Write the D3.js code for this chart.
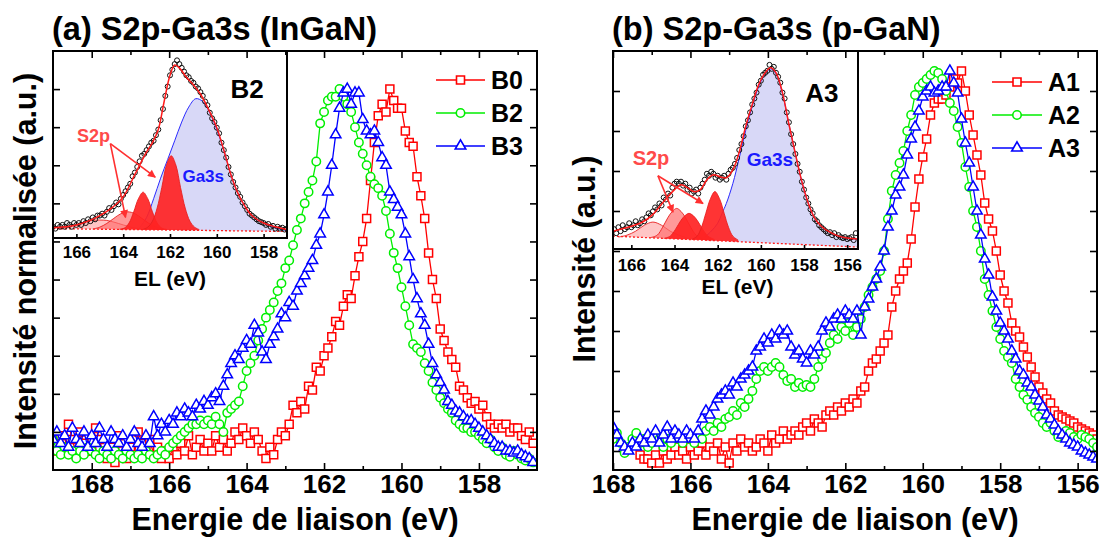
<!DOCTYPE html>
<html><head><meta charset="utf-8">
<script src="https://cdn.jsdelivr.net/npm/d3@7/dist/d3.min.js"></script>
<style>
html,body{margin:0;padding:0;background:#fff;}
svg{display:block;}
text{font-family:"Liberation Sans",Arial,Helvetica,sans-serif;font-weight:bold;}
</style></head><body>
<svg id="chart" width="1104" height="538" xmlns="http://www.w3.org/2000/svg"></svg>
<script>
// ================= DATA =================
const STEP = 0.1; // eV spacing of the measured points

// Panel (a) S2p-Ga3s (InGaN) – main spectra (start energy, then one value per 0.1 eV, decreasing)
const B0_start = 169.0;
const B0 = [0.07,0.05,0.09,0.06,0.12,0.08,0.04,0.10,0.07,0.05,
            0.05,0.11,0.08,0.04,0.03,0.06,0.02,0.09,0.05,0.03,
            0.06,0.04,0.10,0.07,0.05,0.08,0.04,0.06,0.03,0.05,
            0.03,0.06,0.04,0.07,0.05,0.09,0.04,0.06,0.08,0.05,
            0.07,0.05,0.09,0.06,0.08,0.05,0.07,0.10,0.08,0.11,
            0.09,0.07,0.10,0.08,0.05,0.03,0.06,0.04,0.08,0.10,
            0.09,0.12,0.17,0.15,0.18,0.16,0.22,0.21,0.27,0.26,
            0.30,0.32,0.35,0.39,0.38,0.43,0.46,0.45,0.51,0.56,
            0.60,0.66,0.76,0.86,0.93,0.96,0.94,1.00,0.97,0.95,
            0.95,0.89,0.86,0.85,0.77,0.72,0.66,0.57,0.50,0.45,
            0.37,0.34,0.31,0.29,0.27,0.22,0.21,0.19,0.175,0.18,
            0.16,0.17,0.14,0.12,0.11,0.12,0.11,0.12,0.10,0.11,
            0.11,0.09,0.08,0.10,0.07];
const B2_start = 169.0;
const B2 = [0.08,0.05,0.04,0.06,0.04,0.05,0.03,0.05,0.04,0.06,
            0.05,0.04,0.03,0.05,0.04,0.03,0.05,0.04,0.03,0.05,
            0.04,0.03,0.04,0.03,0.05,0.04,0.03,0.04,0.05,0.04,
            0.06,0.07,0.08,0.09,0.10,0.11,0.12,0.12,0.13,0.12,
            0.13,0.12,0.14,0.12,0.10,0.15,0.16,0.17,0.18,0.22,
            0.26,0.28,0.30,0.34,0.37,0.40,0.42,0.44,0.47,0.49,
            0.53,0.55,0.59,0.63,0.66,0.70,0.73,0.76,0.81,0.91,
            0.94,0.97,0.98,0.98,1.00,0.98,0.96,0.94,0.90,0.86,
            0.83,0.80,0.77,0.75,0.74,0.72,0.68,0.62,0.57,0.53,
            0.48,0.43,0.38,0.33,0.32,0.31,0.28,0.26,0.23,0.21,
            0.19,0.175,0.16,0.15,0.13,0.12,0.11,0.11,0.10,0.10,
            0.09,0.08,0.07,0.08,0.06,0.05,0.06,0.04,0.035,0.05,
            0.04,0.03,0.025,0.03,0.02];
const B3_start = 169.0;
const B3 = [0.08,0.10,0.07,0.09,0.06,0.11,0.08,0.07,0.10,0.06,
            0.09,0.07,0.11,0.08,0.06,0.10,0.08,0.07,0.09,0.06,
            0.08,0.10,0.07,0.06,0.09,0.07,0.14,0.09,0.12,0.10,
            0.13,0.12,0.15,0.14,0.16,0.15,0.14,0.17,0.16,0.18,
            0.17,0.19,0.20,0.18,0.22,0.25,0.28,0.30,0.29,0.32,
            0.34,0.33,0.38,0.36,0.31,0.29,0.33,0.35,0.37,0.41,
            0.40,0.44,0.43,0.47,0.49,0.51,0.53,0.55,0.59,0.62,
            0.67,0.73,0.80,0.88,0.95,0.99,1.00,0.96,0.99,0.99,
            0.92,0.89,0.88,0.89,0.86,0.82,0.80,0.73,0.71,0.69,
            0.67,0.62,0.56,0.50,0.45,0.41,0.38,0.33,0.28,0.25,
            0.23,0.21,0.18,0.17,0.155,0.15,0.14,0.13,0.13,0.12,
            0.11,0.10,0.09,0.08,0.07,0.06,0.06,0.05,0.05,0.045,
            0.05,0.04,0.035,0.03,0.02];

// Panel (b) S2p-Ga3s (p-GaN) – main spectra
const A1_start = 167.3;
const A1 = [-0.01,-0.02,-0.02,-0.03,-0.01,-0.03,0.00,-0.02,-0.01,0.01,
            -0.01,0.00,-0.02,0.01,-0.01,0.00,0.02,-0.01,0.01,0.00,
            0.02,-0.02,0.01,-0.03,0.02,0.00,0.03,0.01,0.02,0.00,
            0.01,0.03,0.02,0.00,0.04,0.02,0.03,0.05,0.03,0.04,
            0.05,0.04,0.06,0.07,0.05,0.08,0.07,0.06,0.09,0.10,
            0.09,0.11,0.10,0.12,0.11,0.13,0.12,0.15,0.16,0.20,
            0.22,0.23,0.25,0.27,0.29,0.36,0.40,0.43,0.45,0.47,
            0.53,0.61,0.68,0.735,0.78,0.84,0.87,0.88,0.88,0.89,
            0.91,0.93,0.92,0.95,0.90,0.84,0.79,0.74,0.69,0.62,
            0.58,0.55,0.50,0.44,0.40,0.37,0.32,0.30,0.285,0.26,
            0.235,0.21,0.185,0.16,0.145,0.13,0.12,0.10,0.09,0.085,
            0.08,0.075,0.07,0.06,0.055,0.05,0.045,0.04,0.03];
const A2_start = 168.0;
const A2 = [0.03,0.045,0.02,-0.005,0.01,0.03,0.045,0.02,0.03,0.01,
            0.02,0.04,0.03,0.01,0.03,0.02,0.04,0.03,0.02,0.04,
            0.03,0.02,0.04,0.03,0.05,0.06,0.05,0.07,0.06,0.08,
            0.085,0.10,0.09,0.12,0.11,0.13,0.15,0.18,0.20,0.21,
            0.20,0.21,0.22,0.21,0.19,0.175,0.18,0.16,0.17,0.16,
            0.165,0.16,0.18,0.21,0.23,0.245,0.27,0.29,0.28,0.31,
            0.30,0.32,0.29,0.31,0.33,0.36,0.39,0.41,0.43,0.45,
            0.50,0.58,0.65,0.69,0.72,0.75,0.80,0.84,0.89,0.91,
            0.92,0.93,0.94,0.95,0.945,0.93,0.90,0.87,0.85,0.81,
            0.77,0.71,0.66,0.60,0.56,0.50,0.43,0.39,0.35,0.31,
            0.28,0.25,0.235,0.22,0.18,0.16,0.14,0.128,0.11,0.095,
            0.085,0.07,0.06,0.07,0.05,0.035,0.04,0.05,0.045,0.035,
            0.03,0.04,0.035,0.03,0.02,0.01];
const A3_start = 168.0;
const A3 = [0.06,0.04,0.02,0.01,0.00,0.02,0.01,0.03,0.02,0.04,
            0.03,0.05,0.02,0.04,0.06,0.03,0.05,0.04,0.03,0.05,
            0.04,0.03,0.05,0.08,0.10,0.09,0.11,0.13,0.14,0.15,
            0.14,0.17,0.16,0.18,0.19,0.20,0.21,0.25,0.26,0.28,
            0.27,0.29,0.28,0.30,0.29,0.30,0.26,0.24,0.25,0.23,
            0.22,0.25,0.24,0.26,0.30,0.32,0.31,0.33,0.34,0.33,
            0.35,0.34,0.33,0.35,0.29,0.36,0.38,0.41,0.43,0.46,
            0.50,0.56,0.60,0.64,0.66,0.69,0.74,0.78,0.81,0.85,
            0.885,0.90,0.91,0.895,0.90,0.91,0.91,0.95,0.92,0.895,
            0.83,0.77,0.72,0.66,0.60,0.54,0.48,0.44,0.385,0.35,
            0.32,0.30,0.28,0.25,0.23,0.20,0.19,0.17,0.16,0.14,
            0.125,0.11,0.09,0.08,0.065,0.05,0.04,0.03,0.02,0.015,
            0.01,0.00,-0.005,-0.01,-0.015,-0.02];

// Tick values
const xMajorA = [168,166,164,162,160,158];
const xMinorA = [167,165,163,161,159,157];
const xMajorB = [168,166,164,162,160,158,156];
const xMinorB = [167,165,163,161,159,157];
const yTicksA = [0.1,0.2,0.3,0.4,0.5,0.6,0.7,0.8,0.9,1.0];
const yTicksB = [0,0.1,0.2,0.3,0.4,0.5,0.6,0.7,0.8,0.9];
const insetTicksA = [166,164,162,160,158];
const insetTicksB = [166,164,162,160,158,156];

// Inset (a) – B2 decomposition
const B2raw_start = 167.0;
const B2raw = [0.06,0.05,0.07,0.06,0.07,0.06,0.08,0.07,0.06,0.08,
               0.07,0.08,0.07,0.09,0.08,0.10,0.09,0.11,0.10,0.12,
               0.12,0.13,0.12,0.14,0.16,0.15,0.17,0.19,0.18,0.21,
               0.23,0.25,0.27,0.29,0.33,0.35,0.38,0.41,0.44,0.45,
               0.47,0.49,0.51,0.52,0.55,0.58,0.63,0.69,0.76,0.81,
               0.87,0.90,0.93,0.95,0.93,0.91,0.89,0.87,0.86,0.84,
               0.83,0.81,0.80,0.78,0.76,0.73,0.71,0.67,0.64,0.62,
               0.59,0.56,0.51,0.47,0.43,0.38,0.34,0.30,0.27,0.24,
               0.22,0.19,0.17,0.15,0.13,0.12,0.11,0.10,0.09,0.085,
               0.08,0.07,0.075,0.06,0.065,0.05,0.06,0.05,0.055,0.045,
               0.05];
const B2env = [[167.0,0.055],[166.5,0.06],[166.0,0.07],[165.5,0.09],[165.0,0.12],[164.5,0.16],[164.0,0.22],[163.5,0.34],[163.0,0.46],[162.75,0.51],[162.5,0.58],[162.25,0.73],[162.0,0.87],[161.8,0.925],[161.6,0.91],[161.3,0.86],[161.0,0.82],[160.7,0.77],[160.4,0.70],[160.0,0.59],[159.7,0.47],[159.4,0.34],[159.1,0.24],[158.8,0.17],[158.5,0.12],[158.0,0.08],[157.5,0.06],[157.0,0.045]];
const B2ga3s = [[163.3,0.055],[163.0,0.11],[162.7,0.21],[162.4,0.32],[162.1,0.42],[161.8,0.52],[161.5,0.62],[161.2,0.70],[160.9,0.745],[160.6,0.73],[160.3,0.67],[160.0,0.58],[159.7,0.47],[159.4,0.34],[159.1,0.24],[158.8,0.17],[158.5,0.12],[158.0,0.08],[157.5,0.055],[157.0,0.04]];
const B2base = [[167.0,0.05],[157.0,0.035]];
const B2s2p4 = [[166.8,0.05],[166.4,0.058],[166.0,0.072],[165.6,0.088],[165.3,0.095],[165.0,0.096],[164.7,0.094],[164.4,0.085],[164.0,0.07],[163.6,0.056],[163.2,0.048]];
const B2s2p3 = [[165.3,0.048],[165.0,0.058],[164.7,0.078],[164.4,0.105],[164.1,0.13],[163.8,0.14],[163.5,0.13],[163.2,0.105],[162.9,0.078],[162.6,0.058],[162.3,0.046]];
const B2s2p2 = [[164.15,0.047],[163.95,0.053],[163.75,0.08],[163.55,0.14],[163.35,0.21],[163.15,0.245],[162.95,0.21],[162.75,0.14],[162.55,0.08],[162.35,0.053],[162.15,0.046]];
const B2s2p1 = [[163.15,0.046],[162.95,0.058],[162.75,0.09],[162.55,0.16],[162.35,0.27],[162.15,0.39],[161.95,0.44],[161.75,0.39],[161.55,0.27],[161.35,0.16],[161.15,0.09],[160.95,0.058],[160.75,0.045]];

// Inset (b) – A3 decomposition
const A3raw_start = 166.8;
const A3raw = [0.10,0.08,0.11,0.09,0.12,0.10,0.11,0.13,0.11,0.12,
               0.14,0.12,0.13,0.15,0.14,0.16,0.18,0.17,0.19,0.21,
               0.20,0.23,0.22,0.26,0.25,0.28,0.27,0.31,0.33,0.34,
               0.33,0.34,0.32,0.33,0.30,0.31,0.28,0.29,0.30,0.28,
               0.31,0.33,0.35,0.38,0.37,0.39,0.38,0.36,0.37,0.35,
               0.36,0.37,0.35,0.38,0.40,0.41,0.43,0.46,0.50,0.53,
               0.57,0.62,0.65,0.69,0.73,0.76,0.79,0.83,0.85,0.88,
               0.89,0.90,0.93,0.91,0.92,0.89,0.87,0.84,0.79,0.76,
               0.69,0.64,0.58,0.53,0.48,0.43,0.39,0.34,0.30,0.26,
               0.23,0.20,0.18,0.15,0.14,0.12,0.11,0.10,0.09,0.08,
               0.085,0.07,0.08,0.06,0.07,0.06,0.055,0.06,0.05,0.055,
               0.06,0.045,0.08];
const A3env = [[166.85,0.09],[166.5,0.10],[166.0,0.115],[165.5,0.135],[165.0,0.175],[164.5,0.24],[164.0,0.30],[163.7,0.325],[163.4,0.31],[163.1,0.29],[162.8,0.30],[162.5,0.35],[162.2,0.375],[161.9,0.365],[161.6,0.36],[161.3,0.40],[161.0,0.49],[160.7,0.62],[160.4,0.73],[160.1,0.83],[159.8,0.89],[159.55,0.915],[159.3,0.89],[159.0,0.79],[158.7,0.63],[158.4,0.48],[158.1,0.34],[157.8,0.23],[157.5,0.155],[157.2,0.115],[156.8,0.085],[156.4,0.065],[156.0,0.055],[155.5,0.05]];
const A3ga3s = [[162.6,0.06],[162.3,0.09],[162.0,0.13],[161.8,0.18],[161.6,0.23],[161.3,0.33],[161.0,0.46],[160.7,0.60],[160.4,0.72],[160.1,0.82],[159.8,0.885],[159.55,0.91],[159.3,0.885],[159.0,0.785],[158.7,0.63],[158.4,0.48],[158.1,0.34],[157.8,0.23],[157.5,0.155],[157.2,0.115],[156.8,0.085],[156.4,0.065],[156.0,0.055],[155.5,0.05]];
const A3base = [[166.85,0.065],[155.5,0.01]];
const A3s2p4 = [[166.6,0.06],[166.2,0.07],[165.8,0.09],[165.4,0.12],[165.0,0.136],[164.6,0.12],[164.2,0.09],[163.8,0.07],[163.4,0.055]];
const A3s2p3 = [[165.1,0.058],[164.8,0.07],[164.55,0.11],[164.3,0.16],[164.1,0.19],[163.9,0.205],[163.7,0.19],[163.5,0.16],[163.25,0.11],[163.0,0.07],[162.7,0.05]];
const A3s2p2 = [[164.5,0.053],[164.2,0.065],[163.95,0.10],[163.7,0.145],[163.5,0.17],[163.33,0.18],[163.15,0.17],[162.95,0.145],[162.7,0.10],[162.45,0.065],[162.15,0.048]];
const A3s2p1 = [[163.2,0.048],[162.95,0.065],[162.75,0.11],[162.55,0.18],[162.35,0.25],[162.13,0.29],[161.9,0.25],[161.7,0.18],[161.5,0.11],[161.3,0.065],[161.05,0.045]];

// ================= DRAWING =================
const svg = d3.select('#chart');
const defs = svg.append('defs');
defs.append('marker').attr('id','arrowRed').attr('viewBox','0 0 10 10')
  .attr('refX',9).attr('refY',5).attr('markerWidth',9).attr('markerHeight',8)
  .attr('markerUnits','userSpaceOnUse').attr('orient','auto')
  .append('path').attr('d','M0,0 L10,5 L0,10 z').attr('fill','#ff3030');

const RED = '#ff0000', GREEN = '#00ee00', BLUE = '#0000ff';

function pts(start, vals){ return vals.map((v,i)=>[+(start - i*STEP).toFixed(2), v]); }

function drawMain(p){
  const x = d3.scaleLinear().domain(p.xDomain).range([p.left, p.right]);
  const y = d3.scaleLinear().domain(p.yDomain).range([p.bottom, p.top]);
  defs.append('clipPath').attr('id','clip'+p.id).append('rect')
    .attr('x',p.left).attr('y',p.top).attr('width',p.right-p.left).attr('height',p.bottom-p.top);
  const g = svg.append('g').attr('clip-path',`url(#clip${p.id})`);
  p.series.forEach(s=>{
    const d = pts(s.start, s.values);
    g.append('path').datum(d)
      .attr('d', d3.line().x(q=>x(q[0])).y(q=>y(q[1])))
      .attr('fill','none').attr('stroke',s.color).attr('stroke-width',1.3);
    g.selectAll(null).data(d).enter().append('path')
      .attr('d', d3.symbol().type(s.symbol).size(s.size))
      .attr('transform', q=>`translate(${x(q[0])},${y(q[1])})`)
      .attr('fill','#fff').attr('stroke',s.color).attr('stroke-width',1.5);
  });
  return {x,y};
}

function styleAxis(sel, fs){
  sel.select('.domain').remove();
  sel.attr('font-size',fs);
  sel.selectAll('line').attr('stroke','#000').attr('stroke-width',1.6);
  sel.selectAll('text').attr('fill','#000');
}

function drawAxes(sc, p, xMajor, xMinor, yTicks){
  const g = svg.append('g');
  g.append('g').attr('transform',`translate(0,${p.bottom})`)
    .call(d3.axisBottom(sc.x).tickValues(xMajor).tickSize(-7).tickPadding(5).tickFormat(d3.format('d')))
    .call(s=>styleAxis(s,26));
  g.append('g').attr('transform',`translate(0,${p.bottom})`)
    .call(d3.axisBottom(sc.x).tickValues(xMinor).tickSize(-4).tickFormat(''))
    .call(s=>styleAxis(s,26));
  g.append('g').attr('transform',`translate(0,${p.top})`)
    .call(d3.axisTop(sc.x).tickValues(xMajor).tickSize(-7).tickFormat(''))
    .call(s=>styleAxis(s,26));
  g.append('g').attr('transform',`translate(0,${p.top})`)
    .call(d3.axisTop(sc.x).tickValues(xMinor).tickSize(-4).tickFormat(''))
    .call(s=>styleAxis(s,26));
  g.append('g').attr('transform',`translate(${p.left},0)`)
    .call(d3.axisLeft(sc.y).tickValues(yTicks).tickSize(-7).tickFormat(''))
    .call(s=>styleAxis(s,26));
  g.append('g').attr('transform',`translate(${p.right},0)`)
    .call(d3.axisRight(sc.y).tickValues(yTicks).tickSize(-7).tickFormat(''))
    .call(s=>styleAxis(s,26));
  g.append('rect').attr('x',p.left).attr('y',p.top).attr('width',p.right-p.left).attr('height',p.bottom-p.top)
    .attr('fill','none').attr('stroke','#000').attr('stroke-width',2);
}

function drawInset(o){
  const x = d3.scaleLinear().domain(o.xDomain).range([o.left, o.right]);
  const y = d3.scaleLinear().domain([0,1]).range([o.bottom, o.top]);
  const g = svg.append('g');
  g.append('rect').attr('x',o.left).attr('y',o.top).attr('width',o.right-o.left).attr('height',o.bottom-o.top).attr('fill','#fff');
  defs.append('clipPath').attr('id','clip'+o.id).append('rect')
    .attr('x',o.left).attr('y',o.top).attr('width',o.right-o.left).attr('height',o.bottom-o.top);
  const gc = g.append('g').attr('clip-path',`url(#clip${o.id})`);
  const base = d3.scaleLinear().domain(o.base.map(d=>d[0])).range(o.base.map(d=>d[1]));
  const area = d3.area().x(d=>x(d[0])).y0(d=>y(base(d[0]))).y1(d=>y(d[1])).curve(d3.curveCatmullRom);
  const line = d3.line().x(d=>x(d[0])).y(d=>y(d[1])).curve(d3.curveCatmullRom);
  gc.append('path').datum(o.ga3s).attr('d',area).attr('fill','#d8d8f7');
  gc.append('path').datum(o.ga3s).attr('d',line).attr('fill','none').attr('stroke','#2b2bff').attr('stroke-width',1);
  o.peaks.forEach(pk=>{
    gc.append('path').datum(pk.d).attr('d',area).attr('fill',pk.fill);
    gc.append('path').datum(pk.d).attr('d',line).attr('fill','none').attr('stroke','#e82020').attr('stroke-width',0.9);
  });
  gc.append('path').datum(o.base).attr('d',d3.line().x(d=>x(d[0])).y(d=>y(d[1])))
    .attr('fill','none').attr('stroke','#ff2020').attr('stroke-width',1.3).attr('stroke-dasharray','2,2');
  gc.selectAll(null).data(pts(o.rawStart,o.raw)).enter().append('circle')
    .attr('cx',d=>x(d[0])).attr('cy',d=>y(d[1])).attr('r',2.5)
    .attr('fill','none').attr('stroke','#111').attr('stroke-width',1);
  gc.append('path').datum(o.env).attr('d',line).attr('fill','none').attr('stroke','#ff1a1a').attr('stroke-width',1.5);
  // arrows
  o.arrows.forEach(a=>{
    g.append('line').attr('x1',x(a[0][0])).attr('y1',y(a[0][1])).attr('x2',x(a[1][0])).attr('y2',y(a[1][1]))
      .attr('stroke','#ff3030').attr('stroke-width',1.6).attr('marker-end','url(#arrowRed)');
  });
  // labels
  g.append('text').attr('x',x(o.s2pLab[0])).attr('y',y(o.s2pLab[1])).attr('text-anchor','middle')
    .attr('font-size',o.labFs).attr('fill','#ff4a4a').text('S2p');
  g.append('text').attr('x',x(o.gaLab[0])).attr('y',y(o.gaLab[1])).attr('text-anchor','middle')
    .attr('font-size',o.labFs-1).attr('fill','#1a1aff').text('Ga3s');
  g.append('text').attr('x',x(o.nameLab[0])).attr('y',y(o.nameLab[1])).attr('text-anchor','middle')
    .attr('font-size',26).attr('fill','#000').text(o.name);
  // axis
  g.append('g').attr('transform',`translate(0,${o.bottom})`)
    .call(d3.axisBottom(x).tickValues(o.ticks).tickSize(-4).tickPadding(o.pad).tickFormat(d3.format('d')))
    .call(s=>styleAxis(s,17));
  g.append('rect').attr('x',o.left).attr('y',o.top).attr('width',o.right-o.left).attr('height',o.bottom-o.top)
    .attr('fill','none').attr('stroke','#000').attr('stroke-width',2);
  g.append('text').attr('x',(o.left+o.right)/2 + o.elDx).attr('y',o.elY).attr('text-anchor','middle')
    .attr('font-size',21).attr('fill','#000').text('EL (eV)');
}

function drawLegend(entries, lx0, lx1, ys){
  const g = svg.append('g');
  entries.forEach((s,i)=>{
    const yy = ys[i];
    g.append('line').attr('x1',lx0).attr('x2',lx1).attr('y1',yy).attr('y2',yy).attr('stroke',s.color).attr('stroke-width',1.6);
    g.append('path').attr('d',d3.symbol().type(s.symbol).size(s.size)()).attr('transform',`translate(${(lx0+lx1)/2},${yy})`)
      .attr('fill','#fff').attr('stroke',s.color).attr('stroke-width',1.6);
    g.append('text').attr('x',lx1+6).attr('y',yy).attr('dy','0.36em').attr('font-size',25).attr('fill','#000').text(s.name);
  });
}

// ---------- Panel (a)
const pA = {id:'A', left:53, right:537, top:51, bottom:470, xDomain:[169,156.5], yDomain:[0,1.1],
  series:[
    {name:'B0', start:B0_start, values:B0, color:RED, symbol:d3.symbolSquare, size:64},
    {name:'B2', start:B2_start, values:B2, color:GREEN, symbol:d3.symbolCircle, size:56},
    {name:'B3', start:B3_start, values:B3, color:BLUE, symbol:d3.symbolTriangle, size:48}
  ]};
const scA = drawMain(pA);
drawInset({id:'IA', left:53, right:287, top:51, bottom:238, xDomain:[167,157],
  raw:B2raw, rawStart:B2raw_start, env:B2env, ga3s:B2ga3s, base:B2base,
  peaks:[{d:B2s2p4, fill:'rgba(255,150,150,0.55)'},{d:B2s2p3, fill:'rgba(255,110,110,0.7)'},
         {d:B2s2p2, fill:'rgba(255,35,35,0.92)'},{d:B2s2p1, fill:'rgba(255,35,35,0.92)'}],
  arrows:[[[164.55,0.505],[162.63,0.325]],[[164.55,0.505],[163.9,0.11]]],
  s2pLab:[165.27,0.516], gaLab:[160.58,0.30], nameLab:[158.7,0.75], name:'B2', labFs:18,
  ticks:insetTicksA, pad:8, elY:286, elDx:0});
drawAxes(scA, pA, xMajorA, xMinorA, yTicksA);
drawLegend(pA.series, 436, 485, [80,113,146]);

// ---------- Panel (b)
const pB = {id:'B', left:613, right:1097, top:51, bottom:470, xDomain:[168,155.5], yDomain:[-0.0475,1.0],
  series:[
    {name:'A1', start:A1_start, values:A1, color:RED, symbol:d3.symbolSquare, size:64},
    {name:'A2', start:A2_start, values:A2, color:GREEN, symbol:d3.symbolCircle, size:56},
    {name:'A3', start:A3_start, values:A3, color:BLUE, symbol:d3.symbolTriangle, size:48}
  ]};
const scB = drawMain(pB);
drawInset({id:'IB', left:613, right:858, top:51, bottom:249, xDomain:[166.85,155.5],
  raw:A3raw, rawStart:A3raw_start, env:A3env, ga3s:A3ga3s, base:A3base,
  peaks:[{d:A3s2p4, fill:'rgba(255,150,150,0.55)'},{d:A3s2p3, fill:'rgba(255,110,110,0.7)'},
         {d:A3s2p2, fill:'rgba(255,35,35,0.92)'},{d:A3s2p1, fill:'rgba(255,35,35,0.92)'}],
  arrows:[[[164.77,0.37],[164.07,0.186]],[[164.77,0.37],[162.68,0.23]]],
  s2pLab:[165.09,0.422], gaLab:[159.58,0.417], nameLab:[157.17,0.74], name:'A3', labFs:20,
  ticks:insetTicksB, pad:10, elY:294, elDx:2});
drawAxes(scB, pB, xMajorB, xMinorB, yTicksB);
drawLegend(pB.series, 992, 1042, [82,115,148]);

// ---------- Titles
svg.append('text').attr('x',52).attr('y',40).attr('font-size',32.5).text('(a) S2p-Ga3s (InGaN)');
svg.append('text').attr('x',612).attr('y',40).attr('font-size',32.5).text('(b) S2p-Ga3s (p-GaN)');
svg.append('text').attr('x',(pA.left+pA.right)/2).attr('y',530).attr('text-anchor','middle').attr('font-size',30.5).text('Energie de liaison (eV)');
svg.append('text').attr('x',(pB.left+pB.right)/2).attr('y',530).attr('text-anchor','middle').attr('font-size',30.5).text('Energie de liaison (eV)');
svg.append('text').attr('transform','translate(36,261) rotate(-90)').attr('text-anchor','middle').attr('font-size',30.5).text('Intensité normalisée (a.u.)');
svg.append('text').attr('transform','translate(595,259) rotate(-90)').attr('text-anchor','middle').attr('font-size',30.5).text('Intensité (a.u.)');
</script>
</body></html>
